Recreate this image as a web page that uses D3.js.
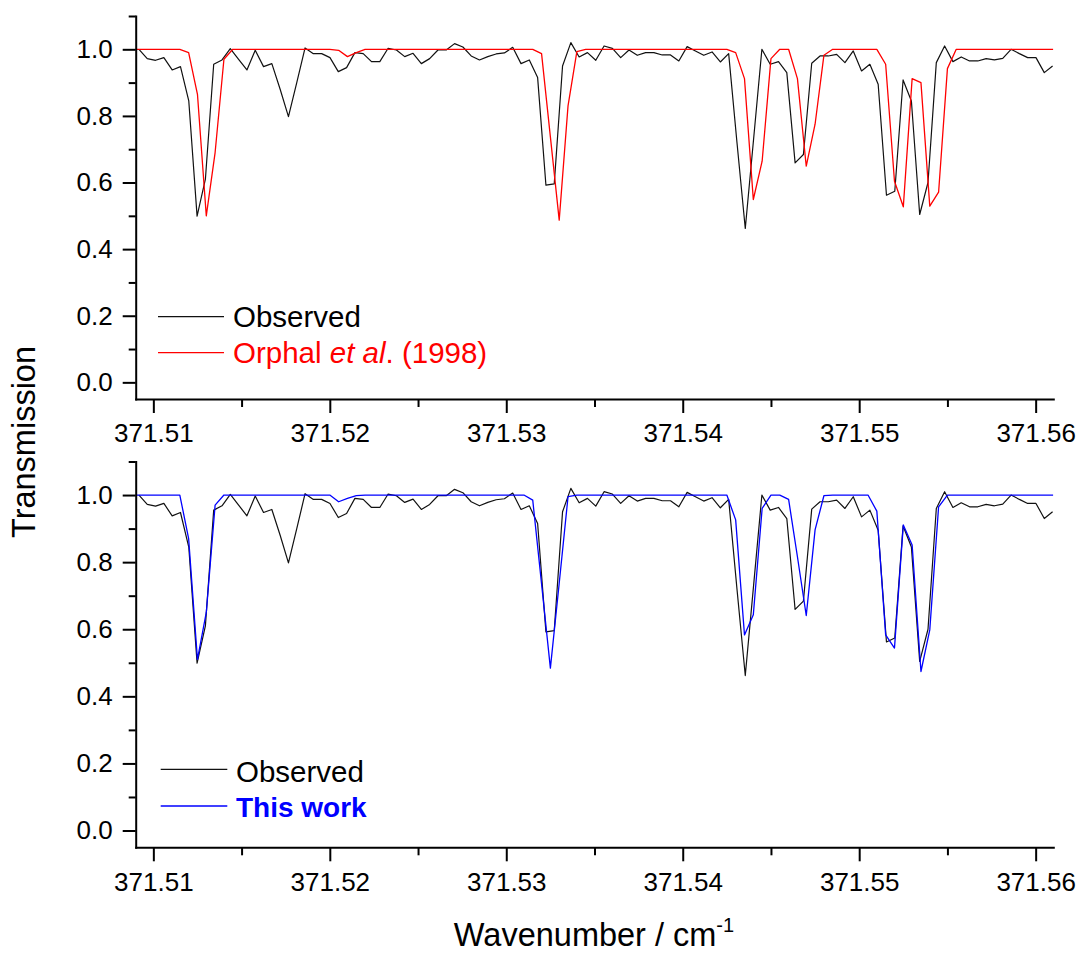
<!DOCTYPE html>
<html><head><meta charset="utf-8">
<script src="https://cdn.jsdelivr.net/npm/d3@7"></script>
<style>
body{margin:0;background:#fff;}
svg{display:block;font-family:"Liberation Sans",Arial,sans-serif;}
</style></head><body>
<svg id="chart" width="1079" height="955"></svg>
<script>
// Observed spectrum: uniform wavenumber sampling
const obsStart = 371.509184;
const obsStep = 0.00047069;
const observed = [
 1.0, 0.972, 0.967, 0.975, 0.938, 0.948, 0.845, 0.499, 0.61, 0.955,
 0.968, 1.002, 0.97, 0.938, 0.997, 0.948, 0.957, 0.88, 0.798, 0.90,
 1.004, 0.987, 0.987, 0.975, 0.933, 0.945, 0.99, 0.987, 0.963, 0.963,
 1.003, 0.998, 0.978, 0.988, 0.957, 0.972, 0.998, 0.998, 1.017, 1.007,
 0.98, 0.968, 0.978, 0.986, 0.989, 1.006, 0.957, 0.968, 0.915, 0.592,
 0.596, 0.95, 1.02, 0.977, 0.99, 0.967, 1.01, 1.003, 0.975, 0.998,
 0.982, 0.99, 0.99, 0.983, 0.983, 0.965, 1.008, 0.995, 0.982, 0.992,
 0.962, 0.987, 0.72, 0.462, 0.73, 1.0, 0.955, 0.963, 0.93, 0.659,
 0.684, 0.958, 0.98, 0.98, 0.985, 0.96, 0.995, 0.935, 0.955, 0.895,
 0.562, 0.574, 0.908, 0.845, 0.504, 0.6, 0.96, 1.01, 0.963, 0.977,
 0.965, 0.965, 0.972, 0.968, 0.973, 1.0, 0.987, 0.975, 0.975, 0.93,
 0.95
];
// Model spectra: sampled every 0.0005 cm-1
const modelStart = 371.509;
const modelStep = 0.0005;
const orphal = [
 1, 1, 1, 1, 1, 1, 0.99, 0.865, 0.5, 0.69,
 0.97, 1, 1, 1, 1, 1, 1, 1, 1, 1,
 1, 1, 1, 0.997, 0.978, 0.99, 1, 1, 1, 1,
 1, 1, 1, 1, 1, 1, 1, 1, 1, 1,
 1, 1, 1, 1, 1, 1, 0.987, 0.737, 0.487, 0.83,
 0.993, 1, 1, 1, 1, 1, 1, 1, 1, 1,
 1, 1, 1, 1, 1, 1, 1, 1, 0.99, 0.912,
 0.549, 0.664, 0.972, 1, 1, 0.912, 0.649, 0.775, 0.982, 1,
 1, 1, 1, 1, 1, 0.955, 0.604, 0.527, 0.912, 0.9,
 0.529, 0.571, 0.942, 1, 1, 1, 1, 1, 1, 1,
 1, 1, 1, 1, 1
];
const thisWork = [
 1, 1, 1, 1, 1, 1, 0.87, 0.51, 0.65, 0.97,
 1, 1, 1, 1, 1, 1, 1, 1, 1, 1,
 1, 1, 1, 0.98, 0.99, 0.998, 1, 1, 1, 1,
 1, 1, 1, 1, 1, 1, 1, 1, 1, 1,
 1, 1, 1, 1, 1, 0.985, 0.735, 0.484, 0.737, 0.995,
 1, 1, 1, 1, 1, 1, 1, 1, 1, 1,
 1, 1, 1, 1, 1, 1, 1, 1, 0.926, 0.583,
 0.643, 0.96, 1, 1, 0.987, 0.816, 0.641, 0.896, 0.998, 1,
 1, 1, 1, 1, 0.952, 0.583, 0.544, 0.911, 0.851, 0.474,
 0.598, 0.965, 1, 1, 1, 1, 1, 1, 1, 1,
 1, 1, 1, 1, 1
];
const xTicks = [371.51, 371.52, 371.53, 371.54, 371.55, 371.56];
const xMinorTicks = [371.515, 371.525, 371.535, 371.545, 371.555];
const yTicks = [0, 0.2, 0.4, 0.6, 0.8, 1.0];
const yMinorTicks = [0.1, 0.3, 0.5, 0.7, 0.9, 1.1];

const svg = d3.select("#chart");
const x = d3.scaleLinear().domain([371.509, 371.561]).range([135.7, 1053.3]);
const line = (y) => d3.line().x(d => x(d[0])).y(d => y(d[1]));
const obsPts = observed.map((v, i) => [obsStart + obsStep * i, v]);

const panels = [
  {yRange: [399, 16], model: orphal, color: "#ff0000",
   legend: {lx: [158, 224], ly: [316.7, 352.7], tx: 233, base: [327, 363]}},
  {yRange: [847.3, 461.5], model: thisWork, color: "#0000ff",
   legend: {lx: [160.7, 227.3], ly: [769.3, 806], tx: 236, base: [781.8, 817]}}
];

panels.forEach((p, k) => {
  const y = d3.scaleLinear().domain([-0.05, 1.1]).range(p.yRange);
  const cid = "clip" + k;
  svg.append("clipPath").attr("id", cid).append("rect")
    .attr("x", x.range()[0]).attr("y", p.yRange[1] - 2)
    .attr("width", x.range()[1] - x.range()[0])
    .attr("height", p.yRange[0] - p.yRange[1] + 2);
  const g = svg.append("g").attr("clip-path", `url(#${cid})`);
  g.append("path").attr("d", line(y)(obsPts))
    .attr("fill", "none").attr("stroke", "#111").attr("stroke-width", 1.2)
    .attr("stroke-linejoin", "round");
  const modPts = p.model.map((v, i) => [modelStart + modelStep * i, v]);
  g.append("path").attr("d", line(y)(modPts))
    .attr("fill", "none").attr("stroke", p.color).attr("stroke-width", 1.3)
    .attr("stroke-linejoin", "round");

  // axes
  const xAxisG = svg.append("g").attr("transform", `translate(0,${p.yRange[0]})`)
    .call(d3.axisBottom(x).tickValues(xTicks).tickFormat(d3.format(".2f"))
      .tickSize(14).tickSizeOuter(0).tickPadding(11));
  svg.append("g").attr("transform", `translate(0,${p.yRange[0]})`)
    .call(d3.axisBottom(x).tickValues(xMinorTicks).tickFormat("").tickSize(8).tickSizeOuter(0))
    .call(g => g.select(".domain").remove());
  const yAxisG = svg.append("g").attr("transform", `translate(${x.range()[0]},0)`)
    .call(d3.axisLeft(y).tickValues(yTicks).tickFormat(d3.format(".1f"))
      .tickSize(13).tickSizeOuter(0).tickPadding(10));
  svg.append("g").attr("transform", `translate(${x.range()[0]},0)`)
    .call(d3.axisLeft(y).tickValues(yMinorTicks).tickFormat("").tickSize(7).tickSizeOuter(0))
    .call(g => g.select(".domain").remove());
  [xAxisG, yAxisG].forEach(a => {
    a.select(".domain").attr("stroke", "#000").attr("stroke-width", 2).attr("stroke-linecap", "square");
    a.selectAll("text").attr("font-size", 26).attr("fill", "#000")
      .attr("font-family", '"Liberation Sans",Arial,sans-serif');
  });
  svg.selectAll(".tick line").attr("stroke", "#000").attr("stroke-width", 2);

  // legend
  const L = p.legend;
  svg.append("line").attr("x1", L.lx[0]).attr("x2", L.lx[1]).attr("y1", L.ly[0]).attr("y2", L.ly[0])
    .attr("stroke", "#111").attr("stroke-width", 1.2);
  svg.append("line").attr("x1", L.lx[0]).attr("x2", L.lx[1]).attr("y1", L.ly[1]).attr("y2", L.ly[1])
    .attr("stroke", p.color).attr("stroke-width", 1.3);
  svg.append("text").attr("x", L.tx).attr("y", L.base[0]).attr("font-size", 29.5)
    .attr("fill", "#000").text("Observed");
  const t2 = svg.append("text").attr("x", L.tx).attr("y", L.base[1]).attr("font-size", 29.5)
    .attr("fill", p.color);
  if (k === 0) {
    t2.append("tspan").text("Orphal ");
    t2.append("tspan").attr("font-style", "italic").text("et al");
    t2.append("tspan").text(". (1998)");
  } else {
    t2.attr("font-weight", "bold").attr("font-size", 28).text("This work");
  }
});

// axis titles
svg.append("text").attr("transform", "translate(35,442) rotate(-90)")
  .attr("text-anchor", "middle").attr("font-size", 32.5).attr("fill", "#000").text("Transmission");
const xt = svg.append("text").attr("x", 594).attr("y", 946)
  .attr("text-anchor", "middle").attr("font-size", 32.5).attr("fill", "#000");
xt.append("tspan").text("Wavenumber / cm");
xt.append("tspan").attr("font-size", 20).attr("dy", -14).text("-1");
</script>
</body></html>
